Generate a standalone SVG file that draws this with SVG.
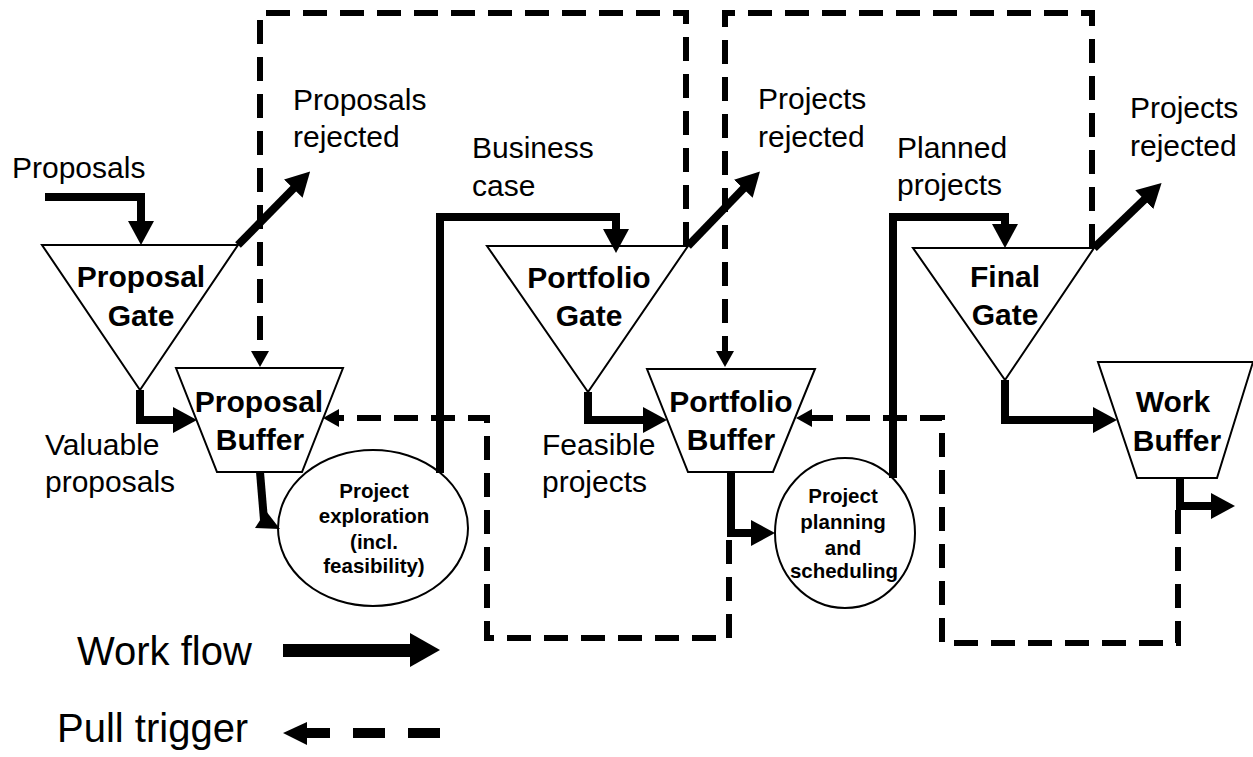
<svg xmlns="http://www.w3.org/2000/svg" width="1253" height="757" viewBox="0 0 1253 757">
<style>
.shape{fill:#fff;stroke:#000;stroke-width:2}
.nl{font-family:"Liberation Sans",Arial,sans-serif;font-weight:bold;font-size:30px;text-anchor:middle;fill:#000}
.cl{font-family:"Liberation Sans",Arial,sans-serif;font-weight:bold;font-size:20.5px;text-anchor:middle;fill:#000}
.lb{font-family:"Liberation Sans",Arial,sans-serif;font-size:30px;fill:#000}
.lg{font-family:"Liberation Sans",Arial,sans-serif;font-size:40px;fill:#000}
.flow{fill:none;stroke:#000;stroke-width:8;marker-end:url(#fa)}
.pull{fill:none;stroke:#000;stroke-width:6;stroke-dasharray:24 13;marker-end:url(#pa)}
</style>
<defs>
<marker id="fa" viewBox="0 0 24 26" markerWidth="24" markerHeight="26" refX="1" refY="13" orient="auto" markerUnits="userSpaceOnUse">
<path d="M0,0 L24,13 L0,26 Z" fill="#000"/>
</marker>
<marker id="pa" viewBox="0 0 16 18" markerWidth="16" markerHeight="18" refX="1" refY="9" orient="auto" markerUnits="userSpaceOnUse">
<path d="M0,0 L16,9 L0,18 Z" fill="#000"/>
</marker>
</defs>
<rect width="1253" height="757" fill="#fff"/>

<g id="proposal-gate">
<polygon class="shape" points="42,245 238,245 140,390"/>
<text class="nl" x="141" y="287">Proposal</text>
<text class="nl" x="141" y="326">Gate</text>
</g>
<g id="proposal-buffer">
<polygon class="shape" points="176,368 343,368 302,472 217,472"/>
<text class="nl" x="259" y="412">Proposal</text>
<text class="nl" x="260" y="450">Buffer</text>
</g>
<g id="project-exploration">
<ellipse class="shape" cx="373" cy="528" rx="95" ry="78"/>
<text class="cl" x="374" y="498">Project</text>
<text class="cl" x="374" y="523">exploration</text>
<text class="cl" x="374" y="549">(incl.</text>
<text class="cl" x="374" y="573">feasibility)</text>
</g>
<g id="portfolio-gate">
<polygon class="shape" points="487,246 688,246 588,392"/>
<text class="nl" x="589" y="288">Portfolio</text>
<text class="nl" x="589" y="326">Gate</text>
</g>
<g id="portfolio-buffer">
<polygon class="shape" points="647,369 815,369 773,472 688,472"/>
<text class="nl" x="731" y="412">Portfolio</text>
<text class="nl" x="731" y="450">Buffer</text>
</g>
<g id="project-planning">
<ellipse class="shape" cx="845" cy="533" rx="70" ry="75"/>
<text class="cl" x="843" y="503">Project</text>
<text class="cl" x="843" y="529">planning</text>
<text class="cl" x="843" y="555">and</text>
<text class="cl" x="844" y="578">scheduling</text>
</g>
<g id="final-gate">
<polygon class="shape" points="913,248 1094,248 1005,380"/>
<text class="nl" x="1005" y="287">Final</text>
<text class="nl" x="1005" y="325">Gate</text>
</g>
<g id="work-buffer">
<polygon class="shape" points="1098,362 1253,362 1217,478 1137,478"/>
<text class="nl" x="1173" y="412">Work</text>
<text class="nl" x="1177" y="451">Buffer</text>
</g>

<g id="connectors">
<path class="pull" d="M686,246 L686,13 L260,13 L260,352"/>
<path class="pull" d="M1092,248 L1092,13 L725,13 L725,352"/>
<path class="pull" d="M729,540 L729,638 L487,638 L487,418 L338,418"/>
<path class="pull" d="M1178,510 L1178,643 L942,643 L942,418 L811,418"/>

<path class="flow" d="M45,197 L141,197 L141,222"/>
<path class="flow" d="M238,245 L294,188"/>
<path class="flow" d="M140,390 L140,420 L174,420"/>
<path d="M260,472 L264,520" fill="none" stroke="#000" stroke-width="8"/>
<polygon points="255,528 266,511 280,529" fill="#000"/>
<path class="flow" d="M440,473 L440,217 L616,217 L616,230"/>
<path class="flow" d="M688,246 L744,188"/>
<path class="flow" d="M588,392 L588,420 L644,420"/>
<path class="flow" d="M731,472 L731,533 L752,533"/>
<path class="flow" d="M893,478 L893,217 L1005,217 L1005,225"/>
<path class="flow" d="M1094,248 L1145,199"/>
<path class="flow" d="M1005,380 L1005,420 L1094,420"/>
<path class="flow" d="M1180,478 L1180,506 L1212,506"/>
</g>

<g id="labels">
<text class="lb" x="12" y="178">Proposals</text>
<text class="lb" x="293" y="110">Proposals</text>
<text class="lb" x="293" y="147">rejected</text>
<text class="lb" x="45" y="455">Valuable</text>
<text class="lb" x="45" y="492">proposals</text>
<text class="lb" x="472" y="158">Business</text>
<text class="lb" x="472" y="196">case</text>
<text class="lb" x="758" y="109">Projects</text>
<text class="lb" x="758" y="147">rejected</text>
<text class="lb" x="542" y="455">Feasible</text>
<text class="lb" x="542" y="492">projects</text>
<text class="lb" x="897" y="158">Planned</text>
<text class="lb" x="897" y="195">projects</text>
<text class="lb" x="1130" y="118">Projects</text>
<text class="lb" x="1130" y="156">rejected</text>
</g>

<g id="legend">
<text class="lg" x="77" y="665">Work flow</text>
<rect x="283" y="644" width="128" height="13" fill="#000"/>
<polygon points="410,633 440,650 410,667" fill="#000"/>
<text class="lg" x="57" y="742">Pull trigger</text>
<polygon points="283,733 307,722 307,745" fill="#000"/>
<rect x="306" y="728" width="24" height="10" fill="#000"/>
<rect x="353" y="728" width="32" height="10" fill="#000"/>
<rect x="408" y="728" width="32" height="10" fill="#000"/>
</g>
</svg>
